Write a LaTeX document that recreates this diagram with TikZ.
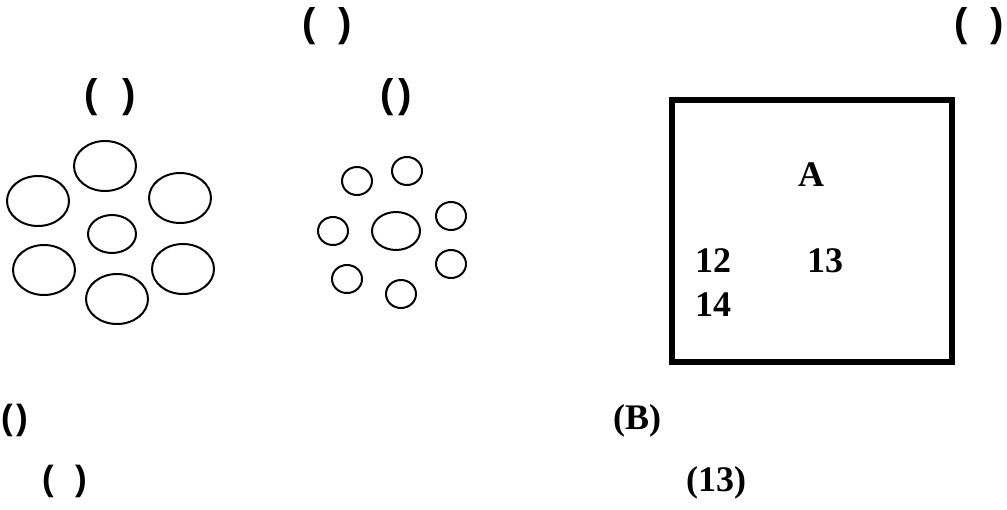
\documentclass[tikz,border=0pt]{standalone}
\usepackage{fontspec}
\setmainfont{Liberation Serif}
\newfontfamily\parfont{Liberation Sans}
\begin{document}
\begin{tikzpicture}[x=1pt,y=-1pt,
  paren/.style={inner sep=0pt,font=\parfont\bfseries\fontsize{40}{44}\selectfont},
  bparen/.style={inner sep=0pt,font=\parfont\bfseries\fontsize{35}{40}\selectfont},
  serifb/.style={inner sep=0pt,font=\bfseries\fontsize{36}{40}\selectfont},
  bigell/.style={draw,line width=2pt},
  boxline/.style={draw,line width=6pt}]
\useasboundingbox (0,0) rectangle (1007,509);
% top labels
\node[paren] (t1) at (327,26) {(\hspace{0.55em})};
\node[paren] (t2) at (979,26) {(\hspace{0.55em})};
\node[paren] (t3) at (110,97) {(\hspace{0.6em})};
\node[paren] (t4) at (396,97) {(\hspace{0.1em})};
% left group of ellipses
\foreach \cx/\cy in {105/166, 38/201, 180/198, 44/270, 183/269, 117/299}
  \draw[bigell] (\cx,\cy) ellipse [x radius=31pt, y radius=25pt];
\draw[bigell] (112,234) ellipse [x radius=24pt, y radius=19pt];
% right group of small circles
\foreach \cx/\cy in {357/181, 407/171, 333/231, 451/216, 451/264, 347/279, 401/294}
  \draw[bigell] (\cx,\cy) ellipse [x radius=15pt, y radius=14pt];
\draw[bigell] (396,231) ellipse [x radius=24pt, y radius=19pt];
% box
\draw[boxline] (672,100) rectangle (952,362);
\node[serifb] (A) at (811,175) {A};
\node[serifb] (n12) at (713,261) {12};
\node[serifb] (n13) at (825,261) {13};
\node[serifb] (n14) at (713,305) {14};
% bottom labels
\node[bparen] (b1) at (15,420) {(\hspace{0.1em})};
\node[bparen] (b2) at (65,481) {(\hspace{0.6em})};
\node[serifb] (b3) at (637,421) {(B)};
\node[serifb] (b4) at (716,483) {(13)};
\end{tikzpicture}
\end{document}
